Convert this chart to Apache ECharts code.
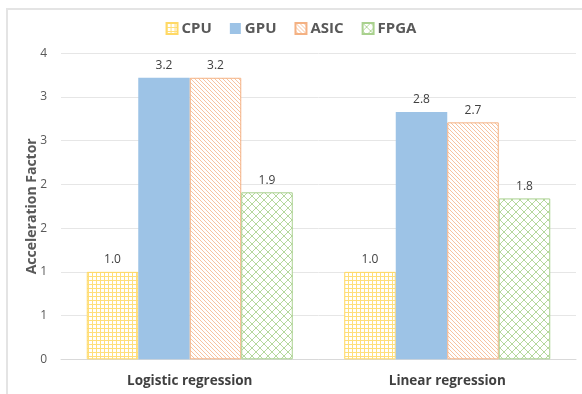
<!DOCTYPE html>
<html>
<head>
<meta charset="utf-8">
<script src="https://cdn.jsdelivr.net/npm/echarts@6/dist/echarts.min.js"></script>
<style>
html,body{margin:0;padding:0;background:#fff;}
#frame{position:absolute;left:6px;top:8px;width:600px;height:400px;border-left:2px solid #e4e4e4;border-top:2px solid #e4e4e4;}
#c{position:absolute;left:0;top:0;width:582px;height:394px;}
</style>
</head>
<body>
<div id="frame"></div>
<div id="c"></div>
<script>
const categories = ['Logistic regression', 'Linear regression'];
const seriesNames = ['CPU', 'GPU', 'ASIC', 'FPGA'];
const cpuValues = [1.0, 1.0];
const gpuValues = [3.22, 2.83];
const asicValues = [3.22, 2.71];
const fpgaValues = [1.91, 1.84];
const yTicks = [0, 0.5, 1, 1.5, 2, 2.5, 3, 3.5];

function pattern(size, bg, fg, pts) {
  const cv = document.createElement('canvas');
  cv.width = size; cv.height = size;
  const ctx = cv.getContext('2d');
  ctx.fillStyle = bg; ctx.fillRect(0, 0, size, size);
  ctx.fillStyle = fg;
  pts.forEach(p => ctx.fillRect(p[0], p[1], 1, 1));
  return { image: cv, repeat: 'repeat' };
}
const gridPts = [];
for (let i = 0; i < 4; i++) { gridPts.push([0, i]); gridPts.push([i, 0]); }
const diagPts = [];
for (let i = 0; i < 4; i++) diagPts.push([i, i]);
const crossPts = [];
for (let i = 0; i < 8; i++) { crossPts.push([i, i]); crossPts.push([i, 7 - i]); }

const cpuFill = pattern(4, '#ffffff', '#FFDF7A', gridPts);
const asicFill = pattern(4, '#ffffff', '#F7C3A0', diagPts);
const fpgaFill = pattern(8, '#ffffff', '#B5D89D', crossPts);

const chart = echarts.init(document.getElementById('c'), null, { renderer: 'canvas' });
const labelStyle = {
  show: true, position: 'top', distance: 6, color: '#404040',
  fontSize: 12, fontFamily: 'Open Sans',
  formatter: p => p.value.toFixed(1)
};
function bar(name, data, fill, border) {
  return {
    name: name, type: 'bar', data: data,
    barGap: '0%', barCategoryGap: '20%',
    itemStyle: { color: fill, borderColor: border, borderWidth: border ? 1 : 0 },
    label: labelStyle,
    emphasis: { disabled: true }
  };
}
chart.setOption({
  animation: false,
  backgroundColor: 'transparent',
  legend: {
    top: 16, left: 'center',
    itemWidth: 11, itemHeight: 11, itemGap: 18,
    icon: 'rect',
    textStyle: { color: '#595959', fontSize: 15, fontWeight: 'bold', fontFamily: 'Open Sans', padding: [0, 0, 0, -1] },
    data: seriesNames
  },
  grid: { left: 61, right: 6, top: 53.3, bottom: 34.7, containLabel: false },
  xAxis: {
    type: 'category', data: categories,
    axisLine: { lineStyle: { color: '#D9D9D9', width: 1 } },
    axisTick: { show: false },
    axisLabel: { color: '#404040', fontSize: 13.5, fontWeight: 'bold', fontFamily: 'Open Sans', margin: 15 }
  },
  yAxis: {
    type: 'value', min: 0, max: 3.5, interval: 0.5,
    name: 'Acceleration Factor', nameLocation: 'middle', nameGap: 22, nameMoveOverlap: false,
    nameTextStyle: { color: '#595959', fontSize: 14, fontWeight: 'bold', fontFamily: 'Open Sans' },
    axisLine: { show: false }, axisTick: { show: false },
    splitLine: { lineStyle: { color: '#E6E6E6', width: 1 } },
    axisLabel: { color: '#595959', fontSize: 12, fontFamily: 'Open Sans', margin: 14,
      formatter: v => String(Math.round(v)) }
  },
  series: [
    bar(seriesNames[0], cpuValues, cpuFill, '#FFD966'),
    bar(seriesNames[1], gpuValues, '#9DC3E6', null),
    bar(seriesNames[2], asicValues, asicFill, '#F4B183'),
    bar(seriesNames[3], fpgaValues, fpgaFill, '#A9D18E')
  ]
});
</script>
</body>
</html>
